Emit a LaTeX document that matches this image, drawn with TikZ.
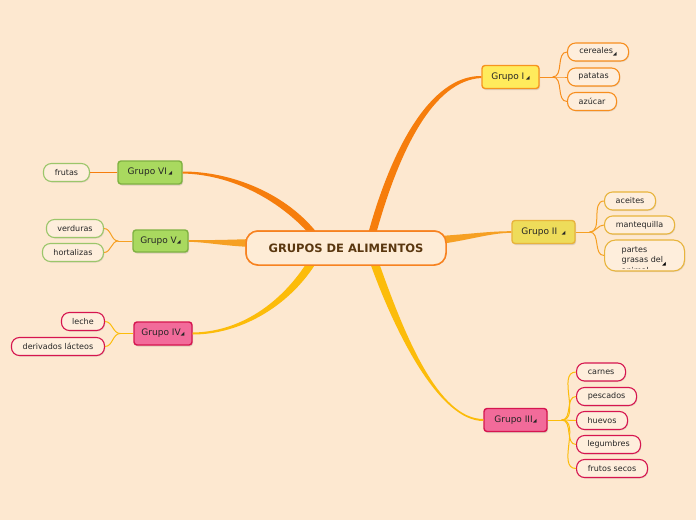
\documentclass[tikz,border=0pt]{standalone}
\usepackage{fontspec}
\setmainfont{DejaVu Sans}
\usetikzlibrary{calc,shadows}

\definecolor{fondo}{RGB}{253,232,208}
\definecolor{raizfill}{RGB}{254,236,214}
\definecolor{raizline}{RGB}{247,130,32}
\definecolor{raiztext}{RGB}{90,55,15}
\definecolor{hojafill}{RGB}{254,238,220}
\definecolor{naranja}{RGB}{247,142,30}
\definecolor{naranjaos}{RGB}{246,125,12}
\definecolor{dorado}{RGB}{246,160,35}
\definecolor{amarillo}{RGB}{252,188,10}
\definecolor{amfill}{RGB}{255,235,92}
\definecolor{amline}{RGB}{247,148,30}
\definecolor{orofill}{RGB}{238,220,90}
\definecolor{oroline}{RGB}{232,180,60}
\definecolor{rosafill}{RGB}{242,107,154}
\definecolor{rosaline}{RGB}{214,21,79}
\definecolor{verdefill}{RGB}{169,217,95}
\definecolor{verdeline}{RGB}{127,178,65}
\definecolor{verdehoja}{RGB}{155,198,106}

\newcommand\mk{{\fontsize{5}{5}\selectfont ◢}}

\tikzset{
  raiz/.style={
    draw=raizline,
    fill=raizfill,
    line width=1.5pt,
    rounded corners=12pt,
    minimum width=200pt,
    minimum height=34pt,
    text=raiztext,
    font=\bfseries\fontsize{11.5}{13}\selectfont
  },
  grupo/.style={
    line width=1.4pt,
    rounded corners=3pt,
    minimum height=23pt,
    inner sep=1pt,
    text=black!85,
    font=\fontsize{9}{10}\selectfont,
    drop shadow={opacity=0.25,shadow xshift=1pt,shadow yshift=-1.5pt}
  },
  hoja/.style={
    fill=hojafill,
    line width=1.1pt,
    rounded corners=8pt,
    minimum height=18pt,
    inner sep=1pt,
    text=black!85,
    font=\fontsize{8}{9}\selectfont,
    drop shadow={opacity=0.2,shadow xshift=0.8pt,shadow yshift=-1pt}
  },
  enlace/.style={line width=1pt}
}

\begin{document}
\begin{tikzpicture}[x=1pt,y=-1pt]
    \fill[fondo] (0,0) rectangle (696,520);
    \useasboundingbox (0,0) rectangle (696,520);

    % nodo central
    \node[raiz] (root) at (346,248) {GRUPOS DE ALIMENTOS};

    % grupos
    \node[grupo,draw=amline,fill=amfill,minimum width=57pt] (gI) at (510.5,77) {Grupo I\,\mk};
    \node[grupo,draw=oroline,fill=orofill,minimum width=63pt] (gII) at (543.5,232) {Grupo II\enspace\mk};
    \node[grupo,draw=rosaline,fill=rosafill,minimum width=63pt] (gIII) at (515.5,420) {Grupo III\mk};
    \node[grupo,draw=rosaline,fill=rosafill,minimum width=58pt] (gIV) at (163,333.5) {Grupo IV\mk};
    \node[grupo,draw=verdeline,fill=verdefill,minimum width=55pt,minimum height=22pt] (gV) at (160.5,241) {Grupo V\mk};
    \node[grupo,draw=verdeline,fill=verdefill,minimum width=64pt] (gVI) at (150,172.5) {Grupo VI\,\mk};

    % ramas principales
    \fill[naranjaos] ($(root.center)+(22,-14)$) .. controls (391,150) and (430,75.5) .. ([yshift=1pt]gI.west)
        -- ([yshift=-1pt]gI.west) .. controls (433,80.5) and (399,151) .. ($(root.center)+(30,-14)$) -- cycle;
    \fill[dorado] ($(root.center)+(94,-12)$) .. controls (470,234) and (490,231.2) .. ([yshift=0.8pt]gII.west)
        -- ([yshift=-0.8pt]gII.west) .. controls (490,233) and (470,240) .. ($(root.center)+(94,-4)$) -- cycle;
    \fill[amarillo] ($(root.center)+(23,12)$) .. controls (396,336) and (440,421) .. ([yshift=-1pt]gIII.west)
        -- ([yshift=1pt]gIII.west) .. controls (438,419) and (404,334) .. ($(root.center)+(32,12)$) -- cycle;
    \fill[amarillo] ($(root.center)+(-37.4,11.9)$) .. controls (282,303) and (240,332) .. ([yshift=1pt]gIV.east)
        -- ([yshift=-1pt]gIV.east) .. controls (240,334.5) and (288,307) .. ($(root.center)+(-30.6,16.1)$) -- cycle;
    \fill[dorado] ($(root.center)+(-94,-9)$) .. controls (225,240) and (205,240.2) .. ([yshift=0.8pt]gV.east)
        -- ([yshift=-0.8pt]gV.east) .. controls (205,242) and (225,246) .. ($(root.center)+(-94,-1)$) -- cycle;
    \fill[naranjaos] ($(root.center)+(-36,-13.4)$) .. controls (277,198) and (230,174.5) .. ([yshift=-1pt]gVI.east)
        -- ([yshift=1pt]gVI.east) .. controls (230,171.5) and (283,192) .. ($(root.center)+(-31,-17.6)$) -- cycle;
    \node[raiz] at (root.center) {GRUPOS DE ALIMENTOS};

    % hojas del grupo I
    \node[hoja,draw=naranja,minimum width=61pt,anchor=west] (cereales) at (567,52) {cereales\raisebox{-1.5pt}{\mk}};
    \node[hoja,draw=naranja,minimum width=52pt,anchor=west] (patatas) at (567,77) {patatas};
    \node[hoja,draw=naranja,minimum width=49pt,anchor=west] (azucar) at (567,101.5) {azúcar};

    % hojas del grupo II
    \node[hoja,draw=oroline,minimum width=51pt,anchor=west] (aceites) at (604,201) {aceites};
    \node[hoja,draw=oroline,minimum width=70pt,anchor=west] (mantequilla) at (604,225) {mantequilla};
    \node[hoja,draw=oroline,minimum width=80pt,minimum height=31pt,rounded corners=11pt,anchor=west] (partes) at (604,255.5) {};
    \begin{scope}
        \clip ([shift={(1pt,2.6pt)}]partes.south west) rectangle ([shift={(-1pt,-1pt)}]partes.north east);
        \node[anchor=north west,align=left,inner sep=0pt,text=black!85,font=\fontsize{8}{10.5}\selectfont]
            (partestxt) at ([xshift=17.5pt,yshift=-6.8pt]partes.north west) {partes\\grasas del\\animal};
    \end{scope}
    \node[anchor=south east,inner sep=0pt] (partesmk) at ([xshift=-19pt,yshift=5pt]partes.south east) {\mk};

    % hojas del grupo III
    \node[hoja,draw=rosaline,minimum width=49pt,anchor=west] (carnes) at (576,372) {carnes};
    \node[hoja,draw=rosaline,minimum width=60pt,anchor=west] (pescados) at (576,396.5) {pescados};
    \node[hoja,draw=rosaline,minimum width=51pt,anchor=west] (huevos) at (576,420.5) {huevos};
    \node[hoja,draw=rosaline,minimum width=64pt,anchor=west] (legumbres) at (576,444.5) {legumbres};
    \node[hoja,draw=rosaline,minimum width=71pt,anchor=west] (frutos) at (576,468.5) {frutos secos};

    % hojas del grupo IV
    \node[hoja,draw=rosaline,minimum width=43pt,anchor=east] (leche) at (105,321.5) {leche};
    \node[hoja,draw=rosaline,minimum width=93pt,anchor=east] (derivados) at (105,346.5) {derivados lácteos};

    % hojas del grupo V y VI
    \node[hoja,draw=verdehoja,minimum width=57pt,anchor=east] (verduras) at (104,228.5) {verduras};
    \node[hoja,draw=verdehoja,minimum width=61pt,anchor=east] (hortalizas) at (104,252.5) {hortalizas};
    \node[hoja,draw=verdehoja,minimum width=46pt,anchor=east] (frutas) at (90,172.5) {frutas};

    % enlaces
    \draw[enlace,naranja] (gI.east) -- ++(13,0) coordinate (fI);
    \foreach \h in {cereales,patatas,azucar}
        \draw[enlace,naranja] (fI) to[out=0,in=180] (\h.west);
    \draw[enlace,dorado] (gII.east) -- ++(14,0) coordinate (fII);
    \foreach \h in {aceites,mantequilla,partes}
        \draw[enlace,dorado] (fII) to[out=0,in=180] (\h.west);
    \draw[enlace,amarillo] (gIII.east) -- ++(14,0) coordinate (fIII);
    \foreach \h in {carnes,pescados,huevos,legumbres,frutos}
        \draw[enlace,amarillo] (fIII) to[out=0,in=180] (\h.west);
    \draw[enlace,amarillo] (gIV.west) -- ++(-13,0) coordinate (fIV);
    \foreach \h in {leche,derivados}
        \draw[enlace,amarillo] (fIV) to[out=180,in=0] (\h.east);
    \draw[enlace,dorado] (gV.west) -- ++(-14,0) coordinate (fV);
    \foreach \h in {verduras,hortalizas}
        \draw[enlace,dorado] (fV) to[out=180,in=0] (\h.east);
    \draw[enlace,naranjaos] (gVI.west) -- (frutas.east);
\end{tikzpicture}
\end{document}
